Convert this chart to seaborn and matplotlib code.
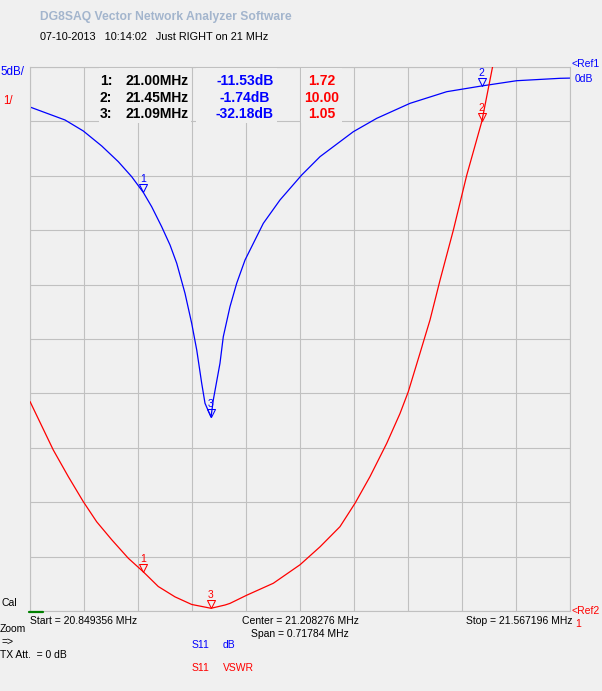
import numpy as np
import pandas as pd
import matplotlib
matplotlib.use("Agg")
import matplotlib.pyplot as plt
import seaborn as sns
from matplotlib.path import Path
from matplotlib.patches import Rectangle
from matplotlib.lines import Line2D

# ---------------- data ----------------
START, STOP = 20.849356, 21.567196
CENTER, SPAN = 21.208276, 0.71784

db_freq = [20.8494, 20.8959, 20.9202, 20.9447, 20.9667, 20.9845, 21.0000, 21.0111,
           21.0244, 21.0355, 21.0444, 21.0554, 21.0643, 21.0710, 21.0776, 21.0820,
           21.0900, 21.0930, 21.1019, 21.1063, 21.1152, 21.1241, 21.1352, 21.1595,
           21.1817, 21.2105, 21.2349, 21.2791, 21.3102, 21.3545, 21.4033, 21.4500,
           21.4963, 21.5539, 21.5672]
db_vals = [-3.68, -4.87, -5.88, -7.26, -8.70, -10.08, -11.53, -12.84,
           -14.68, -16.36, -18.04, -20.80, -23.56, -26.01, -29.07, -30.91,
           -32.18, -30.61, -27.23, -24.79, -22.03, -19.88, -17.74, -14.37,
           -12.22, -9.93, -8.24, -5.95, -4.72, -3.34, -2.27, -1.74,
           -1.26, -1.04, -1.02]

vswr_freq = [20.8494, 20.8803, 20.9003, 20.9202, 20.9380, 20.9580, 20.9800, 21.0000,
             21.0199, 21.0421, 21.0643, 21.0900, 21.1086, 21.1152, 21.1374, 21.1728,
             21.2083, 21.2349, 21.2614, 21.2814, 21.3013, 21.3235, 21.3412, 21.3522,
             21.3678, 21.3811, 21.3944, 21.4121, 21.4299, 21.4500, 21.4645, 21.4700]
vswr_vals = [4.85, 3.96, 3.47, 3.01, 2.64, 2.31, 1.97, 1.72,
             1.45, 1.26, 1.12, 1.05, 1.11, 1.14, 1.29, 1.51,
             1.85, 2.18, 2.55, 2.98, 3.47, 4.08, 4.63, 5.03,
             5.74, 6.35, 7.08, 8.00, 9.01, 10.00, 11.02, 11.4]

marker_ids = [1, 2, 3]
marker_freq = [21.00, 21.45, 21.09]
marker_db = [-11.53, -1.74, -32.18]
marker_vswr = [1.72, 10.00, 1.05]

# ---------------- style ----------------
BG = "#f0f0f0"
GRID = "#c0c0c0"
BLUE = "#0000ff"
RED = "#ff0000"
TITLE_C = "#a3b5cd"

sns.set_style("white")
plt.rcParams['font.family'] = ['Liberation Sans', 'DejaVu Sans']

W, H = 602, 691
fig = plt.figure(figsize=(W / 100, H / 100), dpi=100, facecolor=BG)


def fx(x):
    return x / W


def fy(y):
    return 1 - y / H


L, T, R, B = 30, 67, 570, 611
ax = fig.add_axes([fx(L), fy(B), (R - L) / W, (B - T) / H])
ax.set_facecolor(BG)
ax2 = ax.twinx()
ax2.patch.set_visible(False)

# curves
db_df = pd.DataFrame({"freq": db_freq, "dB": db_vals})
vs_df = pd.DataFrame({"freq": vswr_freq, "VSWR": vswr_vals})
sns.lineplot(data=db_df, x="freq", y="dB", ax=ax, color=BLUE, linewidth=0.9,
             estimator=None, sort=False)
sns.lineplot(data=vs_df, x="freq", y="VSWR", ax=ax2, color=RED, linewidth=0.9,
             estimator=None, sort=False)

ax.set_xlim(START, STOP)
ax.set_ylim(-50, 0)
ax2.set_ylim(1, 11)
ax.set_xticks(np.linspace(START, STOP, 11))
ax.set_yticks(np.linspace(-50, 0, 11))
ax.grid(True, color=GRID, linewidth=0.8, linestyle='-')
ax.tick_params(length=0, labelbottom=False, labelleft=False)
ax2.tick_params(length=0, labelright=False)
ax2.set_yticks([])
for s in ax.spines.values():
    s.set_color(GRID)
    s.set_linewidth(0.8)
for s in ax2.spines.values():
    s.set_visible(False)
ax.set_xlabel("")
ax.set_ylabel("")
ax2.set_ylabel("")

# marker triangles (tip at data point)
tri = Path([(-1, 2), (1, 2), (0, 0), (-1, 2)],
           [Path.MOVETO, Path.LINETO, Path.LINETO, Path.CLOSEPOLY])
for a, ys, c in ((ax, marker_db, BLUE), (ax2, marker_vswr, RED)):
    a.plot(marker_freq, ys, linestyle='none', marker=tri, markersize=11.5,
           markerfacecolor='none', markeredgecolor=c, markeredgewidth=0.75,
           clip_on=False, zorder=5)
    for i, f, v in zip(marker_ids, marker_freq, ys):
        a.annotate(str(i), (f, v), xytext=(0, 5.8), textcoords='offset points',
                   ha='center', va='bottom', color=c, fontsize=7.5,
                   annotation_clip=False, zorder=6)

# marker table background blocks
for x0, x1 in ((99, 191), (196, 277), (301, 342)):
    fig.patches.append(Rectangle((fx(x0), fy(123)), (x1 - x0) / W, (123 - 68) / H,
                                 transform=fig.transFigure, facecolor=BG,
                                 edgecolor='none', zorder=2))

rows_y = [81, 97.5, 113.5]
for i, f, d, v, y in zip(marker_ids, marker_freq, marker_db, marker_vswr, rows_y):
    kw = dict(fontsize=10, fontweight='bold', va='center', zorder=3)
    fig.text(fx(100), fy(y), f"{i}:", ha='left', color='black', **kw)
    fig.text(fx(125), fy(y), f"{f:.2f}MHz", ha='left', color='black', **kw)
    fig.text(fx(245), fy(y), f"{d:.2f}dB", ha='center', color=BLUE, **kw)
    fig.text(fx(322), fy(y), f"{v:.2f}", ha='center', color=RED, **kw)

# header texts
fig.text(fx(40), fy(17), "DG8SAQ Vector Network Analyzer Software", ha='left',
         va='center', fontsize=8.7, fontweight='bold', color=TITLE_C)
fig.text(fx(40), fy(37), "07-10-2013   10:14:02   Just RIGHT on 21 MHz", ha='left',
         va='center', fontsize=7.85, color='black')

small = dict(fontsize=7.5, va='center')
fig.text(fx(0), fy(72), "5dB/", ha='left', color=BLUE, fontsize=8.3, va='center')
fig.text(fx(3), fy(101), "1/", ha='left', color=RED, fontsize=8.3, va='center')
fig.text(fx(572), fy(64), "<Ref1", ha='left', color=BLUE, **small)
fig.text(fx(575), fy(79), "0dB", ha='left', color=BLUE, **small)
fig.text(fx(572), fy(611), "<Ref2", ha='left', color=RED, **small)
fig.text(fx(575), fy(624), "1", ha='left', color=RED, **small)
fig.text(fx(1), fy(603), "Cal", ha='left', color='black', **small)

fig.text(fx(30), fy(621), f"Start = {START:.6f} MHz", ha='left', color='black', **small)
fig.text(fx(242), fy(621), f"Center = {CENTER:.6f} MHz", ha='left', color='black', **small)
fig.text(fx(251), fy(634), f"Span = {SPAN:.5f} MHz", ha='left', color='black', **small)
fig.text(fx(572), fy(621), f"Stop = {STOP:.6f} MHz", ha='right', color='black', **small)
fig.text(fx(0), fy(629), "Zoom", ha='left', color='black', **small)
fig.text(fx(1), fy(642), "=>", ha='left', color='black', **small)
fig.text(fx(0), fy(655), "TX Att.  = 0 dB", ha='left', color='black', **small)
fig.text(fx(192), fy(645), "S11", ha='left', color=BLUE, **small)
fig.text(fx(223), fy(645), "dB", ha='left', color=BLUE, **small)
fig.text(fx(192), fy(668), "S11", ha='left', color=RED, **small)
fig.text(fx(223), fy(668), "VSWR", ha='left', color=RED, **small)

# green calibration indicator
fig.add_artist(Line2D([fx(29), fx(43)], [fy(611.5), fy(611.5)],
                      transform=fig.transFigure, color='#008000', linewidth=1.6,
                      zorder=4))

fig.savefig("out.png", dpi=100, facecolor=BG)
